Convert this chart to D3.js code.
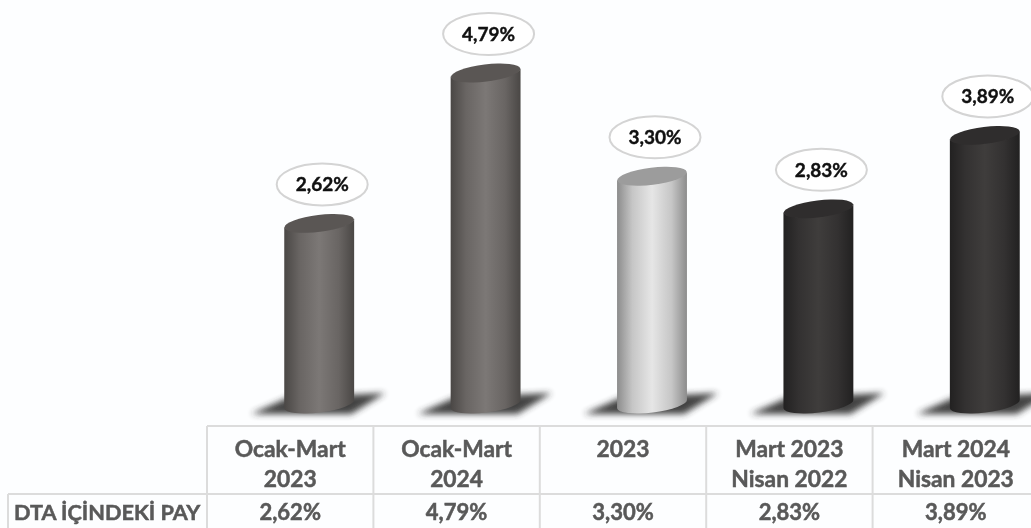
<!DOCTYPE html>
<html>
<head>
<meta charset="utf-8">
<script src="https://cdn.jsdelivr.net/npm/d3@7"></script>
<style>
  html, body { margin: 0; padding: 0; background: #fdfeff; overflow: hidden; }
  #chart { filter: blur(0.4px); }
  text { font-family: Lato, "Noto Sans", sans-serif; font-weight: 700; }
</style>
</head>
<body>
<svg id="chart" width="1031" height="528"></svg>
<script>
const categories = ['Ocak-Mart 2023', 'Ocak-Mart 2024', '2023', 'Mart 2023 Nisan 2022', 'Mart 2024 Nisan 2023'];
const headerLines = [['Ocak-Mart', '2023'], ['Ocak-Mart', '2024'], ['2023'], ['Mart 2023', 'Nisan 2022'], ['Mart 2024', 'Nisan 2023']];
const values = [2.62, 4.79, 3.30, 2.83, 3.89];
const shades = ['mid', 'mid', 'light', 'dark', 'dark'];
const rowLabel = 'DTA İÇİNDEKİ PAY';

const palette = {
  mid: {edge: '#4a4745', side: '#696563', centre: '#7c7876', cap: '#5a5654'},
  light: {edge: '#8c8c8c', side: '#c6c6c6', centre: '#e6e6e6', cap: '#9c9c9c'},
  dark: {edge: '#222121', side: '#333131', centre: '#3f3d3c', cap: '#2f2d2d'}
};

const fmt = v => v.toFixed(2).replace('.', ',') + '%';

const svg = d3.select('#chart');
const defs = svg.append('defs');

// the bars sit a bit to the right of their table column
const xCell = d3.scaleBand().domain(categories).range([207, 1039]);
const xBar = d3.scaleBand().domain(categories).range([236, 1068]).paddingInner(0.58).paddingOuter(0.29);
const y = d3.scaleLinear().domain([0, 4.79]).range([404, 72]);

Object.keys(palette).forEach(k => {
  const g = defs.append('linearGradient').attr('id', 'body-' + k);
  g.append('stop').attr('offset', '0%').attr('stop-color', palette[k].edge);
  g.append('stop').attr('offset', '22%').attr('stop-color', palette[k].side);
  g.append('stop').attr('offset', '50%').attr('stop-color', palette[k].centre);
  g.append('stop').attr('offset', '78%').attr('stop-color', palette[k].side);
  g.append('stop').attr('offset', '100%').attr('stop-color', palette[k].edge);
});

defs.append('filter').attr('id', 'soft')
  .attr('x', '-30%').attr('y', '-100%').attr('width', '160%').attr('height', '300%')
  .append('feGaussianBlur').attr('stdDeviation', 3);

const ry = 8.5;
const tilt = -7;

function cylinder(d) {
  const rx = xBar.bandwidth() / 2;
  const dy = rx * Math.sin(tilt * Math.PI / 180);
  const top = y(d);
  return `M${-rx},${top - dy}L${-rx},${y(0) - dy}` +
    `A${rx},${ry} ${tilt} 0 0 ${rx},${y(0) + dy}L${rx},${top + dy}` +
    `A${rx},${ry} ${tilt} 0 1 ${-rx},${top - dy}Z`;
}

const bars = svg.selectAll('.bar')
  .data(values)
  .join('g')
    .attr('class', 'bar')
    .attr('transform', (d, i) => `translate(${xBar(categories[i]) + xBar.bandwidth() / 2},0)`);

// floor shadow
bars.append('path')
  .attr('d', 'M-68,414L-32,398L66,393L32,414Z')
  .attr('fill', '#2e2e2e')
  .attr('opacity', 0.9)
  .attr('filter', 'url(#soft)');

bars.append('path')
  .attr('d', cylinder)
  .attr('fill', (d, i) => `url(#body-${shades[i]})`);

bars.append('ellipse')
  .attr('rx', xBar.bandwidth() / 2)
  .attr('ry', ry)
  .attr('transform', d => `translate(0,${y(d) + 1}) rotate(${tilt})`)
  .attr('fill', (d, i) => palette[shades[i]].cap);

// value bubbles
const bubbles = svg.selectAll('.bubble')
  .data(values)
  .join('g')
    .attr('class', 'bubble')
    .attr('transform', (d, i) => `translate(${xBar(categories[i]) + xBar.bandwidth() / 2 + 3},${y(d) - 38})`);

bubbles.append('ellipse')
  .attr('rx', 45.5)
  .attr('ry', 21)
  .attr('fill', '#fff')
  .attr('stroke', '#d4d4d4')
  .attr('stroke-width', 2);

bubbles.append('text')
  .attr('text-anchor', 'middle')
  .attr('dy', '0.36em')
  .attr('font-size', 19)
  .attr('fill', '#111')
  .attr('stroke', '#111')
  .attr('stroke-width', 0.4)
  .text(fmt);

// table under the bars
const lineColor = '#dcdcdc';
const table = svg.append('g');
const tableLines = [
  [207, 426, 1031, 426],
  [8, 494, 1031, 494],
  [8, 494, 8, 528]
].concat(categories.map(c => [xCell(c), 426, xCell(c), 528]));

table.selectAll('line')
  .data(tableLines)
  .join('line')
    .attr('x1', d => d[0]).attr('y1', d => d[1])
    .attr('x2', d => d[2]).attr('y2', d => d[3])
    .attr('stroke', lineColor)
    .attr('stroke-width', 2);

const header = table.selectAll('.head')
  .data(categories)
  .join('text')
    .attr('class', 'head')
    .attr('text-anchor', 'middle')
    .attr('font-size', 22.8)
    .attr('fill', '#595959')
    .attr('stroke', '#595959')
    .attr('stroke-width', 0.5);

header.selectAll('tspan')
  .data((c, i) => headerLines[i].map(t => ({c, t})))
  .join('tspan')
    .attr('x', d => xCell(d.c) + xCell.bandwidth() / 2)
    .attr('y', (d, j) => 457 + j * 30)
    .text(d => d.t);

table.selectAll('.val')
  .data(values)
  .join('text')
    .attr('class', 'val')
    .attr('text-anchor', 'middle')
    .attr('x', (d, i) => xCell(categories[i]) + xCell.bandwidth() / 2)
    .attr('y', 520)
    .attr('font-size', 22)
    .attr('fill', '#595959')
    .attr('stroke', '#595959')
    .attr('stroke-width', 0.5)
    .text(fmt);

table.append('text')
  .attr('x', 14)
  .attr('y', 520)
  .attr('font-size', 21.7)
  .attr('fill', '#595959')
  .attr('stroke', '#595959')
  .attr('stroke-width', 0.5)
  .text(rowLabel);
</script>
</body>
</html>
